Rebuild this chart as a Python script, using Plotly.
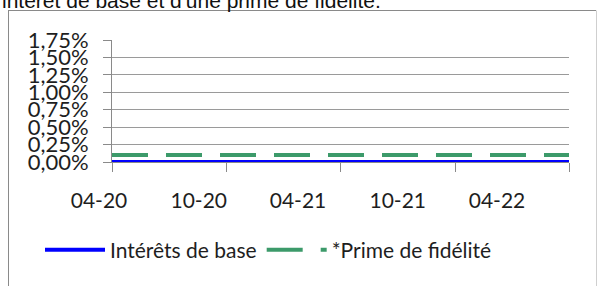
import pandas as pd
import plotly.graph_objects as go

# ---- data ----
months = pd.date_range("2020-04-01", "2022-04-01", freq="MS")
interets_base = [0.00] * len(months)      # % per year
prime_fidelite = [0.10] * len(months)     # % per year
y_ticks = [0.00, 0.25, 0.50, 0.75, 1.00, 1.25, 1.50, 1.75]
y_tick_labels = ["0,00%", "0,25%", "0,50%", "0,75%", "1,00%", "1,25%", "1,50%", "1,75%"]
series_names = ["Intérêts de base", "*Prime de fidélité"]
title_text = "intérêt de base et d'une prime de fidélité."

W, H = 597, 286
ML, MR, MT, MB = 90, 28, 40, 124
PW = W - ML - MR
PH = H - MT - MB


def px_x(p):
    return (p - ML) / PW


def px_y(p):
    return (H - MB - p) / PH


FONT = "Lato"
TXT = "#1e1e1e"

fig = go.Figure()
fig.add_trace(go.Scatter(x=months, y=interets_base, mode="lines", name=series_names[0],
                         line=dict(color="#0000FF", width=4)))
fig.add_trace(go.Scatter(x=months, y=prime_fidelite, mode="lines", name=series_names[1],
                         line=dict(color="#3C9A6A", width=4, dash="36px,18px")))
# carrier for the label axis (no visible marks)
fig.add_trace(go.Scatter(x=[months[0], months[-1]], y=[None, None], xaxis="x2", yaxis="y2",
                         mode="lines", showlegend=False, hoverinfo="skip"))

# label axis positions (labels are placed at a different spacing than ticks in the reference)
t0 = pd.Timestamp("2020-04-01")
t4 = pd.Timestamp("2022-04-01")
k = (t4 - t0) / (497 - 99)
r0 = t0 - (99 - ML) * k
r1 = t4 + (569 - 497) * k

BORDER = dict(color="#8a8a8a", width=1)

fig.update_layout(
    width=W, height=H,
    margin=dict(l=ML, r=MR, t=MT, b=MB),
    paper_bgcolor="white", plot_bgcolor="rgba(0,0,0,0)",
    font=dict(family=FONT, size=21, color=TXT),
    xaxis=dict(domain=[px_x(112), 1], type="date", anchor="y",
               range=[t0, t4], showgrid=False, zeroline=False,
               showline=True, linecolor="#8a8a8a", linewidth=1,
               ticks="outside", ticklen=9, tickcolor="#8a8a8a",
               dtick="M6", tick0="2020-04-01", showticklabels=False),
    xaxis2=dict(domain=[0, 1], type="date", anchor="y2", side="bottom",
                range=[r0, r1], showgrid=False, zeroline=False, showline=False,
                ticks="", dtick="M6", tick0="2020-04-01", tickformat="%m-%y",
                ticklabelstandoff=24,
                tickfont=dict(family=FONT, size=21, color=TXT)),
    yaxis=dict(domain=[0, 1], anchor="x", range=[0, 1.75], tickvals=y_ticks, ticktext=y_tick_labels,
               showgrid=True, gridcolor="#9a9a9a", gridwidth=1, zeroline=False,
               showline=True, linecolor="#8a8a8a", linewidth=1,
               ticks="outside", ticklen=8, tickcolor="#8a8a8a",
               ticklabelstandoff=10,
               tickfont=dict(family=FONT, size=22, color=TXT)),
    yaxis2=dict(domain=[0, 1], anchor="x2", range=[0, 1.75], visible=False, showgrid=False),
    legend=dict(orientation="h", x=px_x(40), xanchor="left", y=px_y(250), yanchor="middle",
                font=dict(family=FONT, size=21, color=TXT), itemwidth=60,
                bgcolor="rgba(0,0,0,0)", tracegroupgap=0),
    showlegend=True,
    shapes=[
        dict(type="line", xref="paper", yref="paper", x0=px_x(8), x1=px_x(596),
             y0=px_y(10.5), y1=px_y(10.5), line=BORDER, layer="above"),
        dict(type="line", xref="paper", yref="paper", x0=px_x(8.5), x1=px_x(8.5),
             y0=px_y(10.5), y1=px_y(300), line=BORDER, layer="above"),
        dict(type="line", xref="paper", yref="paper", x0=px_x(596.5), x1=px_x(596.5),
             y0=px_y(10.5), y1=px_y(300), line=dict(color="#cfcfcf", width=1), layer="above"),
    ],
    annotations=[dict(text=title_text, xref="paper", yref="paper",
                      x=px_x(0), xanchor="left", y=px_y(0), yanchor="middle",
                      showarrow=False, font=dict(family="Liberation Sans", size=21, color="#111"))],
)

fig.write_html("out.html", config={"displayModeBar": False},
               post_script="document.body.style.margin='0';document.body.style.overflow='hidden';")
